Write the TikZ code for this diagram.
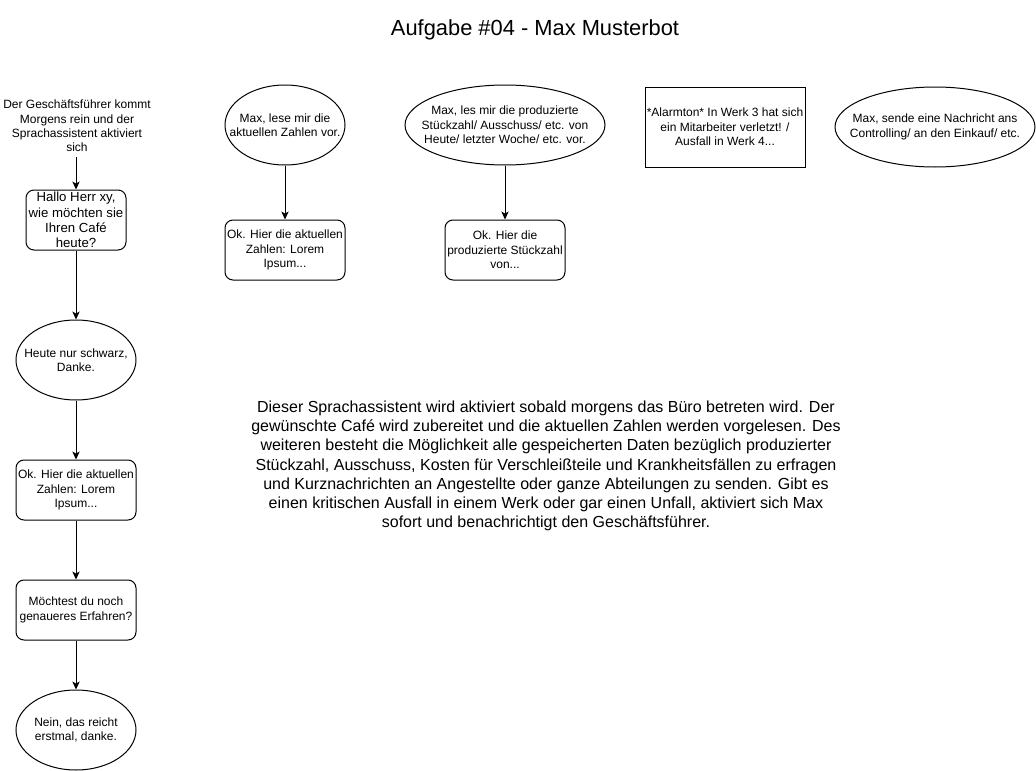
\documentclass[tikz,border=0pt]{standalone}
\usepackage{fontspec}
\setmainfont{Liberation Sans}
\usetikzlibrary{shapes.geometric,arrows.meta}
\tikzset{
  px/.style={x=0.75pt,y=-0.75pt},
  basefont/.style={font=\fontsize{9}{10.8}\selectfont},
  rbox/.style={draw, line width=0.75pt, rounded corners=6pt, inner sep=0pt, align=center, basefont},
  sbox/.style={draw, line width=0.75pt, inner sep=0pt, align=center, basefont},
  ellbox/.style={draw, line width=0.75pt, ellipse, inner sep=0pt},
  txt/.style={inner sep=0pt, align=center, basefont},
  arr/.style={line width=0.75pt, -{Stealth[length=6pt,width=5.5pt,inset=1.6pt]}}
}
\begin{document}
\begin{tikzpicture}[px]
\useasboundingbox (0,0) rectangle (1036,771);
\fill[white] (0,0) rectangle (1036,771);

\node[txt, font=\fontsize{16.4}{19.7}\selectfont] (title) at (535,30) {Aufgabe \#04 - Max Musterbot};

% left column
\node[txt, inner sep=2pt] (t0) at (77,126) {Der Geschäftsführer kommt\\Morgens rein und der\\Sprachassistent aktiviert\\sich};
\node[rbox, minimum width=75pt, minimum height=45pt, font=\fontsize{9.9}{11.5}\selectfont] (hallo) at (76,220) {Hallo Herr xy,\\wie möchten sie\\Ihren Café\\heute?};
\node[ellbox, minimum width=90pt, minimum height=60pt] (e1) at (76,360) {};
\node[txt] (e1t) at (e1) {Heute nur schwarz,\\Danke.};
\node[rbox, minimum width=90pt, minimum height=45pt] (ok1) at (76,490) {Ok. Hier die aktuellen\\Zahlen: Lorem\\Ipsum...};
\node[rbox, minimum width=90pt, minimum height=45pt] (frage) at (76,610) {Möchtest du noch\\genaueres Erfahren?};
\node[ellbox, minimum width=90pt, minimum height=60pt] (e2) at (76,730) {};
\node[txt] (e2t) at (e2) {Nein, das reicht\\erstmal, danke.};

\draw[arr] (76,157) -- (hallo.north);
\draw[arr] (hallo) -- (e1);
\draw[arr] (e1) -- (ok1);
\draw[arr] (ok1) -- (frage);
\draw[arr] (frage) -- (e2);

% top row
\node[ellbox, minimum width=90pt, minimum height=60pt] (m1) at (285,125) {};
\node[txt] (m1t) at (m1) {Max, lese mir die\\aktuellen Zahlen vor.};
\node[rbox, minimum width=90pt, minimum height=45pt] (m1ok) at (285,250) {Ok. Hier die aktuellen\\Zahlen: Lorem\\Ipsum...};
\draw[arr] (m1) -- (m1ok);

\node[ellbox, minimum width=150pt, minimum height=60pt] (m2) at (505,125) {};
\node[txt] (m2t) at (m2) {Max, les mir die produzierte\\Stückzahl/ Ausschuss/ etc. von\\Heute/ letzter Woche/ etc. vor.};
\node[rbox, minimum width=90pt, minimum height=45pt] (m2ok) at (505,250) {Ok. Hier die\\produzierte Stückzahl\\von...};
\draw[arr] (m2) -- (m2ok);

\node[sbox, minimum width=120pt, minimum height=60pt] (alarm) at (725,127) {*Alarmton* In Werk 3 hat sich\\ein Mitarbeiter verletzt! /\\Ausfall in Werk 4...};

\node[ellbox, minimum width=150pt, minimum height=60pt] (send) at (935,127) {};
\node[txt] (sendt) at (send) {Max, sende eine Nachricht ans\\Controlling/ an den Einkauf/ etc.};

% description
\node[txt, font=\fontsize{12}{14.4}\selectfont] (desc) at (546,466) {Dieser Sprachassistent wird aktiviert sobald morgens das Büro betreten wird. Der\\gewünschte Café wird zubereitet und die aktuellen Zahlen werden vorgelesen. Des\\weiteren besteht die Möglichkeit alle gespeicherten Daten bezüglich produzierter\\Stückzahl, Ausschuss, Kosten für Verschleißteile und Krankheitsfällen zu erfragen\\und Kurznachrichten an Angestellte oder ganze Abteilungen zu senden. Gibt es\\einen kritischen Ausfall in einem Werk oder gar einen Unfall, aktiviert sich Max\\sofort und benachrichtigt den Geschäftsführer.};
\end{tikzpicture}
\end{document}
